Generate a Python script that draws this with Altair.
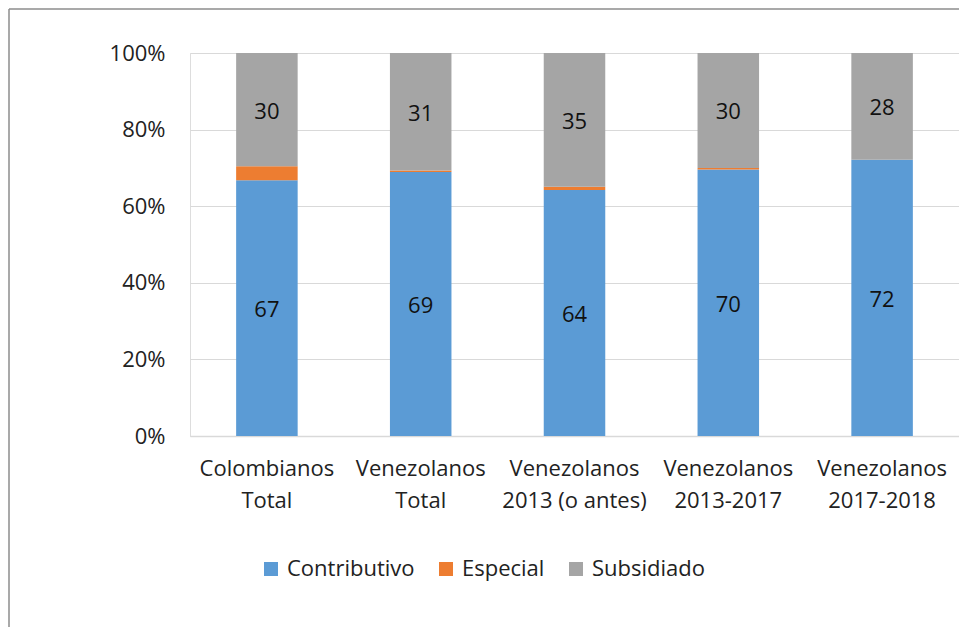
import altair as alt
import pandas as pd

categories = ["Colombianos\nTotal", "Venezolanos\nTotal", "Venezolanos\n2013 (o antes)",
              "Venezolanos\n2013-2017", "Venezolanos\n2017-2018"]
series = ["Contributivo", "Especial", "Subsidiado"]
contributivo = [66.8, 68.9, 64.2, 69.6, 72.1]
especial = [3.6, 0.4, 0.9, 0.4, 0.0]
subsidiado = [29.6, 30.7, 34.9, 30.0, 27.9]
colors = ["#5B9BD5", "#ED7D31", "#A5A5A5"]
y_ticks = [0, 0.2, 0.4, 0.6, 0.8, 1.0]

rows = []
for i, c in enumerate(categories):
    for j, (s, vals) in enumerate(zip(series, [contributivo, especial, subsidiado])):
        rows.append({"cat": c, "serie": s, "value": vals[i], "ord": j})
df = pd.DataFrame(rows)

FONT = "Open Sans"
FS = 22

xenc = alt.X("cat:N", sort=categories, title=None,
             scale=alt.Scale(paddingInner=0.6, paddingOuter=0.3),
             axis=alt.Axis(labelExpr="split(datum.label, '\\n')", labelAngle=0,
                           labelFont=FONT, labelFontSize=FS, labelColor="#222222",
                           labelLineHeight=32, labelPadding=22, labelBaseline="top",
                           ticks=False, domainColor="#D9D9D9", domainWidth=1.5,
                           grid=False))

bars = alt.Chart(df).mark_bar().encode(
    x=xenc,
    y=alt.Y("value:Q", stack="normalize", title=None,
            scale=alt.Scale(domain=[0, 1]),
            axis=alt.Axis(format="%", values=y_ticks, labelFont=FONT, labelFontSize=FS,
                          labelColor="#222222", ticks=False, domain=False,
                          labelPadding=25, gridColor="#D9D9D9", gridWidth=1.2)),
    color=alt.Color("serie:N", title=None,
                    scale=alt.Scale(domain=series, range=colors),
                    legend=alt.Legend(orient="none", direction="horizontal",
                                      legendX=70, legendY=505,
                                      symbolType="square", symbolSize=196,
                                      symbolStrokeWidth=0, labelFont=FONT,
                                      labelFontSize=FS, labelColor="#222222",
                                      columnPadding=20, labelOffset=5)),
    order=alt.Order("ord:Q", sort="ascending"),
)

labels = alt.Chart(df).transform_stack(
    stack="value", groupby=["cat"], as_=["v0", "v1"],
    sort=[alt.SortField("ord", order="ascending")], offset="normalize"
).transform_calculate(
    mid="(datum.v0 + datum.v1) / 2"
).transform_filter(
    "datum.serie != 'Especial'"
).mark_text(font=FONT, fontSize=FS, color="#111111", baseline="middle", dy=2).encode(
    x=alt.X("cat:N", sort=categories),
    y=alt.Y("mid:Q"),
    text=alt.Text("value:Q", format=".0f"),
)

border_top = alt.Chart(pd.DataFrame({"a": [0]})).mark_rule(color="#8C8C8C", strokeWidth=1.5).encode(
    x=alt.value(-181), x2=alt.value(800), y=alt.value(-44))
border_left = alt.Chart(pd.DataFrame({"a": [0]})).mark_rule(color="#8C8C8C", strokeWidth=1.5).encode(
    x=alt.value(-181), y=alt.value(-44), y2=alt.value(600))

chart = alt.layer(bars, labels, border_top, border_left).properties(
    width=769, height=383,
    autosize=alt.AutoSizeParams(type="none"),
    padding={"left": 182, "top": 45, "right": 0, "bottom": 191},
).configure_view(stroke=None).configure(background="white")

chart.save("out.html", embed_options={"renderer": "svg", "actions": False})
